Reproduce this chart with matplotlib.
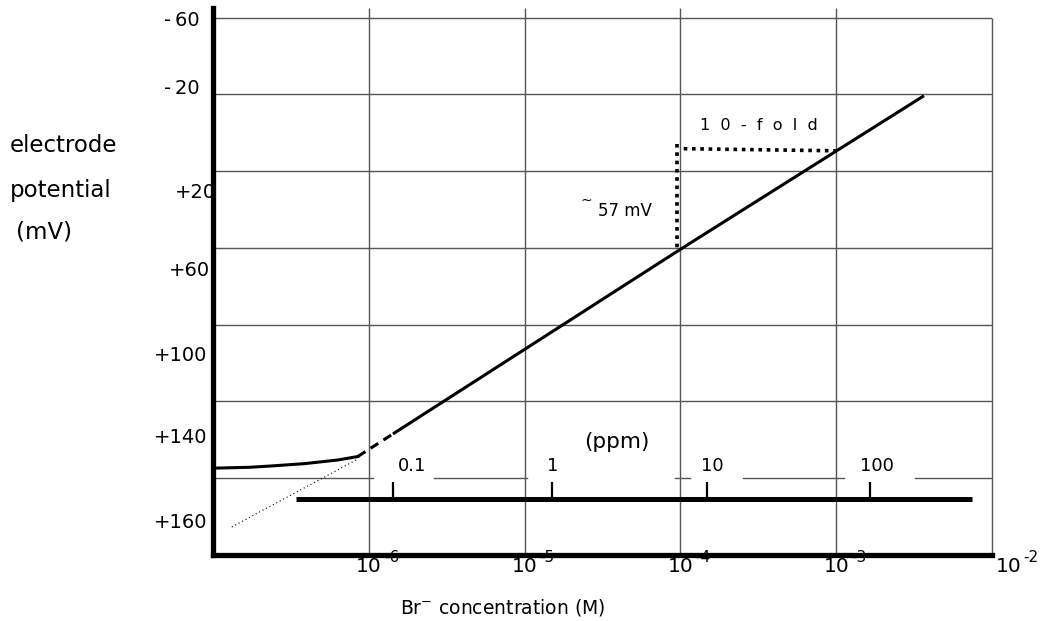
import numpy as np
import matplotlib.pyplot as plt

# grid and scale values
decades = [1e-6, 1e-5, 1e-4, 1e-3]
decade_exp = ['-6', '-5', '-4', '-3']
mv_grid = [-60, -20, 20, 60, 100, 140]
mv_grid_ppm = 180
# the +180 grid line is broken where the ppm labels sit (log10 M)
ppm_grid_segments = [(-7.0, -5.974), (-5.582, -4.984), (-4.032, -3.936),
                     (-3.601, -2.952), (-2.495, -2.0)]

y_labels = ['-\u200960', '-\u200920', '+20', '+60', '+100', '+140', '+160']
y_label_mv = [-58.5, -23, 31, 72, 116, 159, 203]
y_label_dx = [-13, -13, 3, -3, -6, -6, -6]   # px from the axis

# electrode response (M, mV)
lin_conc = [1.43e-6, 1.01e-4, 3.66e-3]
lin_mv = [156.9, 60.5, -19.3]
flat_conc = [1.07e-7, 1.72e-7, 2.38e-7, 3.87e-7, 6.32e-7, 8.49e-7]
flat_mv = [174.7, 174.3, 173.6, 172.4, 170.5, 168.7]
join_conc = [8.49e-7, 1.43e-6]
join_mv = [168.7, 156.9]
extrap_conc = [1.32e-7, 8.51e-7]
extrap_mv = [205.4, 170.0]

# ppm scale
ppm_bar_conc = [3.43e-7, 7.43e-3]
ppm_bar_mv = 191
ppm_tick_conc = [1.43e-6, 1.50e-5, 1.49e-4, 1.64e-3]
ppm_labels = ['0.1', '1', '10', '100']
ppm_label_conc = [1.89e-6, 1.52e-5, 1.61e-4, 1.82e-3]

# 10-fold / 57 mV marker
fold_v_conc = 9.55e-5
fold_v_mv = [5.7, 60]
fold_h_conc = [1.05e-4, 9.93e-4]
fold_h_mv = [8.3, 9.4]

px = 0.72  # points per pixel at 100 dpi

fig = plt.figure(figsize=(10.45, 6.21), dpi=100)
ax = fig.add_axes([213 / 1045, 1 - 555 / 621, 779 / 1045, 547 / 621])
ax.set_xscale('log')
ax.set_xlim(1e-7, 1e-2)
ax.set_ylim(220, -65)
ax.set_xticks([])
ax.set_xticks([], minor=True)
ax.set_yticks([])
for s in ['top', 'right']:
    ax.spines[s].set_visible(False)
for s in ['left', 'bottom']:
    ax.spines[s].set_linewidth(3.8)
    ax.spines[s].set_zorder(6)

gc = '#555555'
ax.hlines(mv_grid, 1e-7, 1e-2, color=gc, lw=1, zorder=1)
for a, b in ppm_grid_segments:
    ax.plot([10 ** a, 10 ** b], [mv_grid_ppm] * 2, color=gc, lw=1, zorder=1)
ax.vlines(decades, -65, 220, color=gc, lw=1, zorder=1)
ax.vlines(1e-2, -60, 220, color=gc, lw=1, zorder=1, clip_on=False)

# response curve
ax.plot(lin_conc, lin_mv, color='black', lw=2.2, solid_capstyle='butt', zorder=4)
ax.plot(flat_conc, flat_mv, color='black', lw=2.2, zorder=4)
ax.plot(join_conc, join_mv, color='black', lw=2.2, dashes=(3, 2), zorder=4)
ax.plot(extrap_conc, extrap_mv, color='black', lw=0.8, ls=(0, (1, 2.5)), zorder=3)

# ppm scale
ax.plot(ppm_bar_conc, [ppm_bar_mv] * 2, color='black', lw=3.6, solid_capstyle='butt', zorder=4)
ax.vlines(ppm_tick_conc, 182, ppm_bar_mv, color='black', lw=1.6, zorder=4)
for c, t in zip(ppm_label_conc, ppm_labels):
    ax.text(c, 173.6, t, ha='center', va='center', fontsize=13)
ax.text(10 ** -4.405, 161, '(ppm)', ha='center', va='center', fontsize=15.5)

# 10-fold marker
dot = (0, (1, 1.3))
ax.plot([fold_v_conc] * 2, fold_v_mv, color='black', lw=2.6, ls=dot,
        dash_capstyle='butt', zorder=4)
ax.plot(fold_h_conc, fold_h_mv, color='black', lw=2.6, ls=dot,
        dash_capstyle='butt', zorder=4)
ax.text(10 ** -3.498, -3.7, '1  0  -  f  o  l  d', ha='center', va='center', fontsize=11.5)
ax.text(10 ** -4.354, 40.6, '57 mV', ha='center', va='center', fontsize=12)
ax.text(10 ** -4.605, 35.5, '~', ha='center', va='center', fontsize=10)

# y labels (placed as drawn in the original)
for t, v, dx in zip(y_labels, y_label_mv, y_label_dx):
    ax.annotate(t, xy=(0, v), xycoords=('axes fraction', 'data'),
                xytext=(dx * px, 0), textcoords='offset points',
                ha='right', va='center', fontsize=14, zorder=2,
                annotation_clip=False)

# x labels: 10 with exponent partly hidden by the axis line
for d, e in zip(decades, decade_exp):
    ax.annotate('10', xy=(d, 0), xycoords=('data', 'axes fraction'),
                xytext=(0, -12 * px), textcoords='offset points',
                ha='center', va='center', fontsize=14.5, zorder=2,
                annotation_clip=False)
    ax.annotate(e, xy=(d, 0), xycoords=('data', 'axes fraction'),
                xytext=(15 * px, -2 * px), textcoords='offset points',
                ha='left', va='center', fontsize=11, zorder=1,
                annotation_clip=False)
ax.annotate('10', xy=(1e-2, 0), xycoords=('data', 'axes fraction'),
            xytext=(17 * px, -11 * px), textcoords='offset points',
            ha='center', va='center', fontsize=14.5, annotation_clip=False)
ax.annotate('-2', xy=(1e-2, 0), xycoords=('data', 'axes fraction'),
            xytext=(31 * px, -3 * px), textcoords='offset points',
            ha='left', va='center', fontsize=11, annotation_clip=False)

fig.text(400 / 1045, 1 - 607 / 621, 'Br$^{-}$ concentration (M)',
         ha='left', va='center', fontsize=13.5)
fig.text(10 / 1045, 1 - 146 / 621, 'electrode', ha='left', va='center', fontsize=16.5)
fig.text(10 / 1045, 1 - 190 / 621, 'potential', ha='left', va='center', fontsize=16.5)
fig.text(16 / 1045, 1 - 232 / 621, '(mV)', ha='left', va='center', fontsize=16.5)

fig.savefig('out.png', dpi=100)
